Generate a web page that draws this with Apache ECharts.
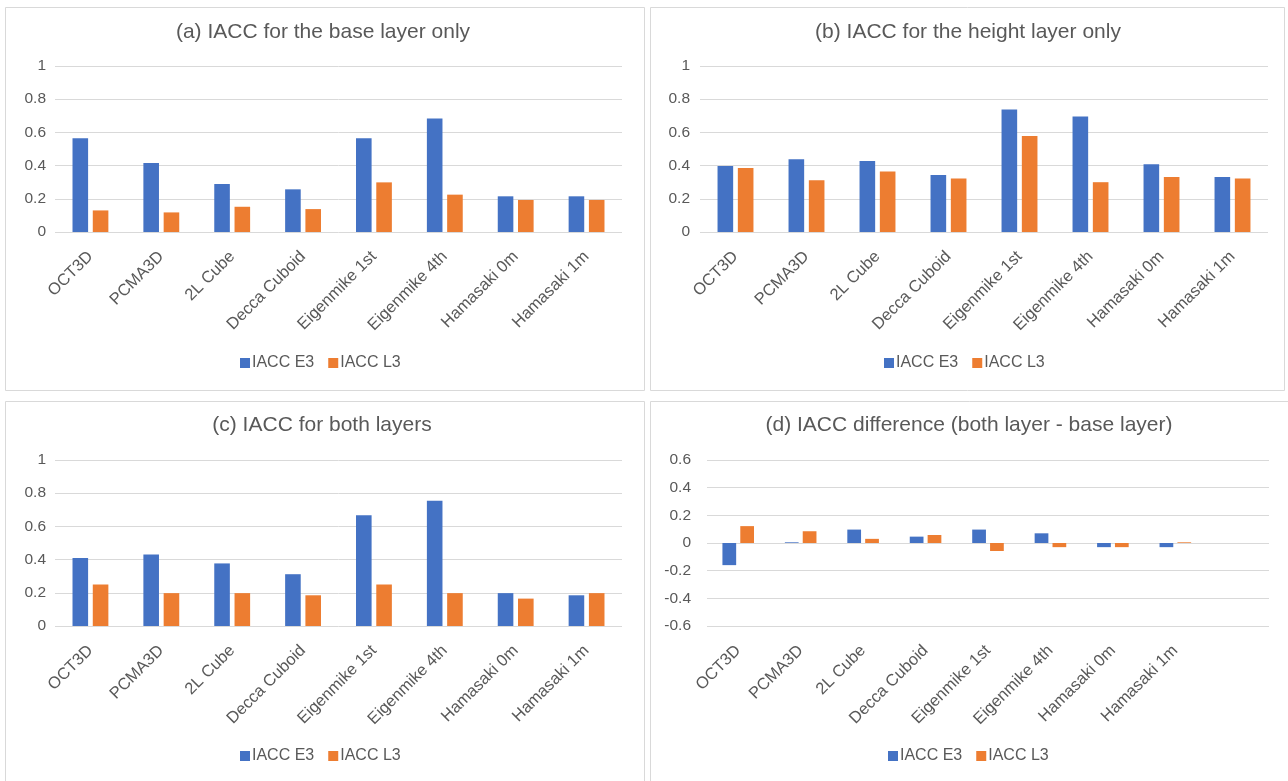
<!DOCTYPE html>
<html>
<head>
<meta charset="utf-8">
<script src="https://cdn.jsdelivr.net/npm/echarts@6/dist/echarts.min.js"></script>
<style>
html, body { margin: 0; padding: 0; background: #ffffff; }
#chart { width: 1288px; height: 781px; }
</style>
</head>
<body>
<div id="chart"></div>
<script>
// Microphone arrays compared
const categories = ['OCT3D', 'PCMA3D', '2L Cube', 'Decca Cuboid', 'Eigenmike 1st', 'Eigenmike 4th', 'Hamasaki 0m', 'Hamasaki 1m'];
// The difference panel keeps one empty slot at the end of its axis
const categoriesDiff = categories.concat(['']);

const seriesNames = ['IACC E3', 'IACC L3'];

// (a) base layer only
const baseE3 = [0.565, 0.415, 0.289, 0.257, 0.565, 0.684, 0.215, 0.215];
const baseL3 = [0.130, 0.118, 0.152, 0.138, 0.299, 0.225, 0.193, 0.193];
// (b) height layer only
const heightE3 = [0.398, 0.438, 0.428, 0.344, 0.738, 0.696, 0.408, 0.332];
const heightL3 = [0.386, 0.312, 0.364, 0.322, 0.578, 0.300, 0.332, 0.322];
// (c) both layers
const bothE3 = [0.409, 0.431, 0.377, 0.312, 0.667, 0.754, 0.198, 0.185];
const bothL3 = [0.250, 0.198, 0.198, 0.185, 0.250, 0.198, 0.165, 0.198];
// (d) both layers minus base layer
const diffE3 = [-0.160, 0.005, 0.097, 0.046, 0.097, 0.070, -0.030, -0.030];
const diffL3 = [0.122, 0.085, 0.030, 0.058, -0.058, -0.030, -0.030, 0.005];

const valueTicksPos = { min: 0, max: 1, interval: 0.2 };
const valueTicksDiff = { min: -0.6, max: 0.6, interval: 0.2 };

const BLUE = '#4472C4';
const ORANGE = '#ED7D31';
const TEXT = '#595959';
const GRID = '#D9D9D9';
const FONT = '"Liberation Sans", Arial, sans-serif';

const panels = [
  { title: '(a) IACC for the base layer only', box: [5, 7, 639, 383], titleX: 323, titleY: 32,
    grid: { left: 55, top: 66, width: 567, height: 166 }, cats: categories, ticks: valueTicksPos,
    e3: baseE3, l3: baseL3, legendX: 235, legendY: 350, yMargin: 9 },
  { title: '(b) IACC for the height layer only', box: [650, 7, 634, 383], titleX: 968, titleY: 32,
    grid: { left: 700, top: 66, width: 568, height: 166 }, cats: categories, ticks: valueTicksPos,
    e3: heightE3, l3: heightL3, legendX: 879, legendY: 350, yMargin: 10 },
  { title: '(c) IACC for both layers', box: [5, 401, 639, 400], titleX: 322, titleY: 425,
    grid: { left: 55, top: 460, width: 567, height: 166 }, cats: categories, ticks: valueTicksPos,
    e3: bothE3, l3: bothL3, legendX: 235, legendY: 743, yMargin: 9 },
  { title: '(d) IACC difference (both layer - base layer)', box: [650, 401, 660, 400], titleX: 969, titleY: 425,
    grid: { left: 707, top: 460, width: 562, height: 166 }, cats: categoriesDiff, ticks: valueTicksDiff,
    e3: diffE3, l3: diffL3, legendX: 883, legendY: 743, yMargin: 16 }
];

const option = {
  animation: false,
  backgroundColor: '#ffffff',
  textStyle: { fontFamily: FONT },
  graphic: [],
  grid: [], xAxis: [], yAxis: [], legend: [], series: []
};

panels.forEach((p, i) => {
  option.graphic.push({
    type: 'rect', silent: true,
    shape: { x: p.box[0] + 0.5, y: p.box[1] + 0.5, width: p.box[2], height: p.box[3] },
    style: { fill: 'none', stroke: GRID, lineWidth: 1 }
  });
  option.graphic.push({
    type: 'text', silent: true, x: p.titleX, y: p.titleY,
    style: { text: p.title, fill: TEXT, font: '21px ' + FONT, align: 'center', verticalAlign: 'middle' }
  });
  option.grid.push(Object.assign({ containLabel: false }, p.grid));
  option.xAxis.push({
    type: 'category', gridIndex: i, data: p.cats,
    axisLine: { show: false }, axisTick: { show: false },
    axisLabel: { interval: 0, rotate: 45, margin: 22, color: TEXT, fontSize: 16.5, fontFamily: FONT }
  });
  option.yAxis.push({
    type: 'value', gridIndex: i, min: p.ticks.min, max: p.ticks.max, interval: p.ticks.interval,
    axisLine: { show: false }, axisTick: { show: false },
    splitLine: { lineStyle: { color: GRID, width: 1 } },
    axisLabel: { color: TEXT, fontSize: 15.5, fontFamily: FONT, margin: p.yMargin }
  });
  option.legend.push({
    data: seriesNames, left: p.legendX, top: p.legendY,
    itemWidth: 10, itemHeight: 10, itemGap: 14, icon: 'rect',
    textStyle: { color: TEXT, fontSize: 16, fontFamily: FONT, padding: [0, 0, 0, -3] },
    selectedMode: false
  });
  option.series.push({
    name: seriesNames[0], type: 'bar', xAxisIndex: i, yAxisIndex: i, data: p.e3,
    barWidth: '22%', barGap: '30%', itemStyle: { color: BLUE }
  });
  option.series.push({
    name: seriesNames[1], type: 'bar', xAxisIndex: i, yAxisIndex: i, data: p.l3,
    barWidth: '22%', barGap: '30%', itemStyle: { color: ORANGE }
  });
});

const chart = echarts.init(document.getElementById('chart'), null, { renderer: 'canvas' });
chart.setOption(option);
</script>
</body>
</html>
